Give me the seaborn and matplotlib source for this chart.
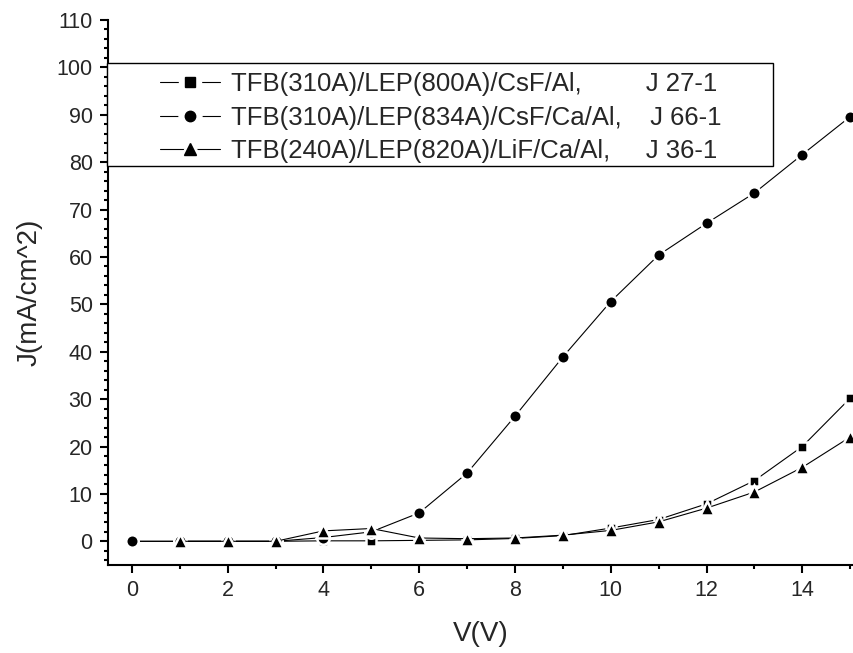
import numpy as np
import pandas as pd
import seaborn as sns
import matplotlib.pyplot as plt
from matplotlib.lines import Line2D
from matplotlib.patches import Rectangle
from matplotlib.legend_handler import HandlerTuple
from matplotlib.ticker import MultipleLocator

# J-V data
volts = list(range(16))
j27 = [0, 0, 0, 0, 0.1, 0.1, 0.2, 0.3, 0.6, 1.2, 2.8, 4.6, 7.9, 12.8, 20.0, 30.2]
j66 = [0, 0, 0, 0, 0.8, 2.0, 6.0, 14.4, 26.4, 38.9, 50.6, 60.4, 67.1, 73.5, 81.6, 89.6]
volts36 = list(range(1, 16))
j36 = [0, 0, 0, 2.2, 2.7, 0.7, 0.55, 0.7, 1.3, 2.3, 4.1, 7.0, 10.4, 15.6, 22.0]

labels = ['TFB(310A)/LEP(800A)/CsF/Al,         J 27-1',
          'TFB(310A)/LEP(834A)/CsF/Ca/Al,    J 66-1',
          'TFB(240A)/LEP(820A)/LiF/Ca/Al,     J 36-1']
markers = ['s', 'o', '^']
msizes = [7.5, 9, 10]

sns.set_style('ticks')
plt.rcParams['font.family'] = ['Liberation Sans', 'DejaVu Sans']

fig = plt.figure(figsize=(8.54, 6.53), dpi=100)
ax = fig.add_axes([108 / 854, 88 / 653, 1 - 108 / 854, (565 - 20) / 653])

series = [(volts, j27), (volts, j66), (volts36, j36)]
for (x, y), mk, ms in zip(series, markers, msizes):
    df = pd.DataFrame({'V': x, 'J': y})
    sns.lineplot(data=df, x='V', y='J', ax=ax, color='black', lw=0.8,
                 marker=mk, markersize=ms, markerfacecolor='black',
                 markeredgecolor='white', markeredgewidth=1.8,
                 clip_on=False, zorder=3)

ax.set_xlim(-0.5, 15.08)
ax.set_ylim(-5, 110)
ax.xaxis.set_major_locator(MultipleLocator(2))
ax.xaxis.set_minor_locator(MultipleLocator(1))
ax.yaxis.set_major_locator(MultipleLocator(10))
ax.yaxis.set_minor_locator(MultipleLocator(2))
ax.tick_params(which='major', length=6, width=1.5, labelsize=15.5, pad=5, color='black')
ax.tick_params(which='minor', length=3, width=1.5, color='black')
for s in ['top', 'right']:
    ax.spines[s].set_visible(False)
for s in ['left', 'bottom']:
    ax.spines[s].set_linewidth(1.5)
    ax.spines[s].set_color('black')

ax.set_xlabel('V(V)', fontsize=20, labelpad=14)
ax.set_ylabel('J(mA/cm^2)', fontsize=20, labelpad=10)

# legend box and entries
fig.patches.append(Rectangle((107 / 854, 1 - 166 / 653), (773 - 107) / 854, (166 - 63) / 653,
                             transform=fig.transFigure, facecolor='white',
                             edgecolor='black', lw=1.0, zorder=5))
handles = []
for mk, ms in zip(markers, [6.5, 7.5, 9]):
    gap = Line2D([], [], color='black', lw=0.8, marker=mk, markersize=ms + 9,
                 markerfacecolor='white', markeredgecolor='white')
    dot = Line2D([], [], ls='none', marker=mk, markersize=ms,
                 markerfacecolor='black', markeredgecolor='black')
    handles.append((gap, dot))
leg = fig.legend(handles, labels, loc='upper left',
                 handler_map={tuple: HandlerTuple(ndivide=1)},
                 bbox_to_anchor=(160 / 854, 1 - 72 / 653), frameon=False,
                 fontsize=18.5, handlelength=2.35, handletextpad=0.42,
                 labelspacing=0.37, borderpad=0, borderaxespad=0)
leg.set_zorder(6)

fig.savefig('out.png', dpi=100)
